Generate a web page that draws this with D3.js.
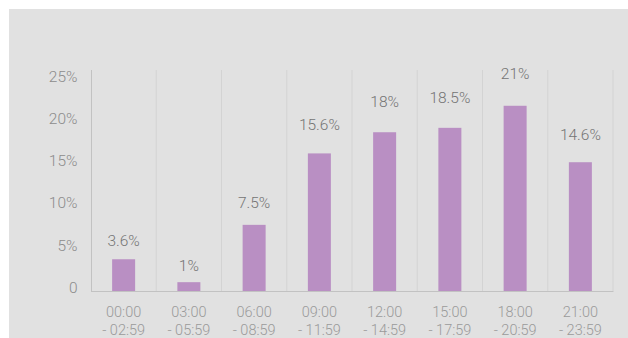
<!DOCTYPE html>
<html><head><meta charset="utf-8">
<script src="https://cdn.jsdelivr.net/npm/d3@7"></script>
<style>html,body{margin:0;padding:0;background:#fff;}svg{display:block;}</style>
</head><body>
<script>
const categoriesTop = ["00:00","03:00","06:00","09:00","12:00","15:00","18:00","21:00"];
const categoriesBottom = ["- 02:59","- 05:59","- 08:59","- 11:59","- 14:59","- 17:59","- 20:59","- 23:59"];
const values = [3.6, 1, 7.5, 15.6, 18, 18.5, 21, 14.6];
const valueLabels = ["3.6%","1%","7.5%","15.6%","18%","18.5%","21%","14.6%"];
const yTicks = [0, 5, 10, 15, 20, 25];
const yTickLabels = ["0","5%","10%","15%","20%","25%"];

(function () {
const W = 628, H = 338;
const svg = d3.select("body").append("svg").attr("width", W).attr("height", H);
const font = "Roboto, 'Open Sans', sans-serif";

svg.append("rect").attr("x", 9).attr("y", 9).attr("width", W - 9).attr("height", H - 9).attr("fill", "#e1e1e1");

const pLeft = 91, pRight = 613, pTop = 70, pBase = 291;
const x = d3.scaleBand().domain(d3.range(values.length)).range([pLeft, pRight]).paddingInner(0).paddingOuter(0);
const y = d3.scaleLinear().domain([0, 25]).range([pBase, pTop + 0.5]);
const yTickPos = d3.scaleLinear().domain([0, 25]).range([287.5, 76]);
const yLabelPos = d3.scaleLinear().domain([0, 25]).range([274.6, 34.6]);

// vertical separators
const seps = d3.range(1, values.length + 1).map(i => pLeft + i * x.step());
svg.append("g").selectAll("line").data(seps).join("line")
  .attr("x1", d => d).attr("x2", d => d).attr("y1", pTop).attr("y2", pBase)
  .attr("stroke", "#d3d3d3").attr("stroke-width", 1);

// bars
const barW = 23;
svg.append("g").selectAll("rect").data(values).join("rect")
  .attr("x", (d, i) => x(i) + x.bandwidth() / 2 - barW / 2)
  .attr("y", d => y(d))
  .attr("width", barW)
  .attr("height", d => pBase + 0.7 - y(d))
  .attr("fill", "#b98fc3");

// axis lines
svg.append("line").attr("x1", pLeft + 0.5).attr("x2", pLeft + 0.5).attr("y1", pTop).attr("y2", pBase + 1)
  .attr("stroke", "#c2c2c2").attr("stroke-width", 1);
svg.append("line").attr("x1", pLeft).attr("x2", pRight + 0.5).attr("y1", pBase + 0.5).attr("y2", pBase + 0.5)
  .attr("stroke", "#c2c2c2").attr("stroke-width", 1);

// y tick labels
svg.append("g").selectAll("text").data(yTicks).join("text")
  .attr("x", 77.5).attr("y", d => yTickPos(d))
  .attr("dy", "0.36em").attr("text-anchor", "end")
  .attr("font-family", font).attr("font-weight", 300).attr("font-size", 15.5)
  .attr("fill", "#8c8c8c")
  .text((d, i) => yTickLabels[i]);

// value labels
svg.append("g").selectAll("text").data(values).join("text")
  .attr("x", (d, i) => x(i) + x.bandwidth() / 2)
  .attr("y", d => yLabelPos(d))
  .attr("dy", "0.36em").attr("text-anchor", "middle")
  .attr("font-family", font).attr("font-weight", 300).attr("font-size", 15.5)
  .attr("fill", "#747474")
  .text((d, i) => valueLabels[i]);

// x labels
const xl = svg.append("g").selectAll("text").data(categoriesTop).join("text")
  .attr("text-anchor", "middle")
  .attr("font-family", font).attr("font-weight", 300).attr("font-size", 14.5)
  .attr("fill", "#9a9a9a");
xl.append("tspan").attr("x", (d, i) => x(i) + x.bandwidth() / 2).attr("y", 311.7).attr("dy", "0.36em").text(d => d);
xl.append("tspan").attr("x", (d, i) => x(i) + x.bandwidth() / 2).attr("y", 329.3).attr("dy", "0.36em").text((d, i) => categoriesBottom[i]);
})();
</script>
</body></html>
